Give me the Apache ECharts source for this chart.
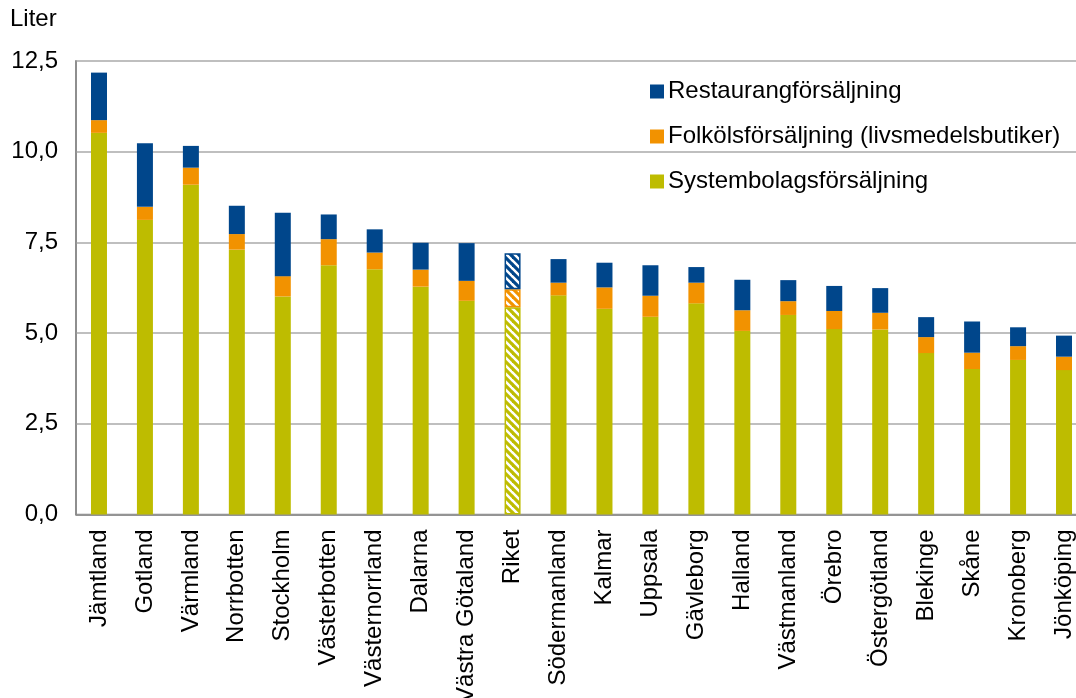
<!DOCTYPE html>
<html>
<head>
<meta charset="utf-8">
<script src="https://cdn.jsdelivr.net/npm/echarts@6/dist/echarts.min.js"></script>
<style>
html,body{margin:0;padding:0;background:#fff;}
#chart{width:1076px;height:698px;}
</style>
</head>
<body>
<div id="chart"></div>
<script>
var categories = ['Jämtland','Gotland','Värmland','Norrbotten','Stockholm','Västerbotten','Västernorrland','Dalarna','Västra Götaland','Riket','Södermanland','Kalmar','Uppsala','Gävleborg','Halland','Västmanland','Örebro','Östergötland','Blekinge','Skåne','Kronoberg','Jönköping'];
var systembolag = [10.52, 8.12, 9.09, 7.30, 6.01, 6.87, 6.76, 6.28, 5.89, 5.71, 6.04, 5.67, 5.45, 5.82, 5.06, 5.50, 5.11, 5.10, 4.45, 4.01, 4.26, 3.98];
var folkol = [0.35, 0.36, 0.47, 0.43, 0.56, 0.72, 0.46, 0.47, 0.55, 0.50, 0.35, 0.59, 0.58, 0.57, 0.57, 0.38, 0.50, 0.46, 0.44, 0.45, 0.38, 0.37];
var restaurang = [1.31, 1.75, 0.60, 0.78, 1.75, 0.68, 0.64, 0.74, 1.04, 0.99, 0.65, 0.68, 0.84, 0.43, 0.84, 0.58, 0.69, 0.68, 0.55, 0.86, 0.52, 0.58];
var seriesNames = ['Systembolagsförsäljning', 'Folkölsförsäljning (livsmedelsbutiker)', 'Restaurangförsäljning'];
var yTicks = [0, 2.5, 5, 7.5, 10, 12.5];
var highlightCategory = 'Riket';

var colors = ['#BEBC00', '#F29200', '#00468B'];
var FONT = 'Liberation Sans, Arial, sans-serif';
var FS = 24;

function makePattern(col) {
  var c = document.createElement('canvas');
  c.width = 8; c.height = 8;
  var ctx = c.getContext('2d');
  ctx.fillStyle = '#ffffff';
  ctx.fillRect(0, 0, 8, 8);
  ctx.strokeStyle = col;
  ctx.lineWidth = 3.2;
  [-8, 0, 8].forEach(function (o) {
    ctx.beginPath();
    ctx.moveTo(o - 1, -1);
    ctx.lineTo(o + 9, 9);
    ctx.stroke();
  });
  return c;
}

function buildData(values, idx) {
  return values.map(function (v, i) {
    if (categories[i] === highlightCategory) {
      return {
        value: v,
        itemStyle: {
          color: { image: makePattern(colors[idx]), repeat: 'repeat' },
          borderColor: colors[idx],
          borderWidth: 1.5
        }
      };
    }
    return v;
  });
}

var allValues = [systembolag, folkol, restaurang];
var series = allValues.map(function (vals, idx) {
  return {
    name: seriesNames[idx],
    type: 'bar',
    stack: 'total',
    barWidth: 16,
    itemStyle: { color: colors[idx] },
    emphasis: { disabled: true },
    data: buildData(vals, idx)
  };
});

var chart = echarts.init(document.getElementById('chart'), null, { renderer: 'canvas' });
chart.setOption({
  animation: false,
  textStyle: { fontFamily: FONT },
  graphic: [{
    type: 'text', left: 10, top: 7,
    style: { text: 'Liter', font: FS + 'px ' + FONT, fill: '#000' }
  }],
  legend: {
    data: [seriesNames[2], seriesNames[1], seriesNames[0]],
    orient: 'vertical',
    left: 645,
    top: 74,
    itemWidth: 14,
    itemHeight: 14,
    itemGap: 20,
    icon: 'rect',
    textStyle: { fontSize: FS, color: '#000', fontFamily: FONT, lineHeight: 25, padding: [0, 0, 0, -1] },
    selectedMode: false
  },
  grid: {
    left: 76, top: 61, width: 1011, height: 453.5,
    containLabel: false,
    outerBoundsMode: 'none',
    show: true, borderColor: '#878787', borderWidth: 1.5, backgroundColor: 'transparent'
  },
  xAxis: {
    type: 'category',
    data: categories,
    axisTick: { show: false },
    axisLine: { lineStyle: { color: '#878787', width: 1.5 } },
    axisLabel: { rotate: 90, fontSize: FS, color: '#000', margin: 15, fontFamily: FONT, interval: 0 }
  },
  yAxis: {
    type: 'value',
    min: yTicks[0],
    max: yTicks[yTicks.length - 1],
    interval: yTicks[1] - yTicks[0],
    axisLine: { show: true, lineStyle: { color: '#878787', width: 1.5 } },
    axisTick: { show: false },
    splitLine: { lineStyle: { color: '#BFBFBF', width: 2 } },
    axisLabel: {
      fontSize: FS, color: '#000', margin: 18, fontFamily: FONT,
      formatter: function (v) { return v.toFixed(1).replace('.', ','); }
    }
  },
  series: series
});
</script>
</body>
</html>
